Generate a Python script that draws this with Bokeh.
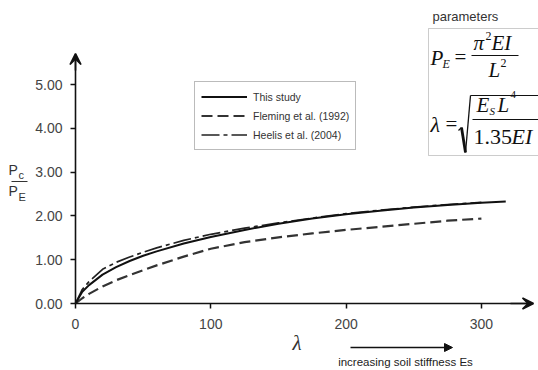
from bokeh.plotting import figure
from bokeh.models import (Range1d, FixedTicker, PrintfTickFormatter, Label, Arrow,
                          VeeHead, NormalHead, BoxAnnotation, Legend, LegendItem)
from bokeh.embed import file_html
from bokeh.resources import INLINE

# ---- data ----
lam_study = [0, 5, 10, 20, 30, 40, 50, 60, 80, 100, 125, 150, 175, 200, 225, 250, 275, 300, 318]
pc_study = [0, 0.27, 0.42, 0.66, 0.83, 0.97, 1.09, 1.19, 1.37, 1.52, 1.68, 1.82, 1.94, 2.04, 2.12, 2.19, 2.25, 2.30, 2.33]

lam_fleming = [0, 5, 10, 20, 30, 40, 50, 60, 80, 100, 125, 150, 175, 200, 225, 250, 275, 300]
pe_fleming = [0, 0.12, 0.22, 0.39, 0.53, 0.65, 0.76, 0.87, 1.07, 1.25, 1.40, 1.51, 1.60, 1.68, 1.75, 1.82, 1.89, 1.94]

lam_heelis = [0, 5, 10, 20, 30, 40, 50, 60, 80, 100, 125, 150, 175, 200, 225, 250, 275, 300]
pe_heelis = [0, 0.32, 0.50, 0.78, 0.94, 1.06, 1.17, 1.27, 1.44, 1.58, 1.72, 1.84, 1.95, 2.05, 2.13, 2.20, 2.26, 2.31]

series_labels = ["This study", "Fleming et al. (1992)", "Heelis et al. (2004)"]
x_ticks = [0, 100, 200, 300]
y_ticks = [0, 1, 2, 3, 4, 5]

# ---- layout helpers (window pixel -> data) ----
W, H = 538, 370
X0, XS = 75.0, 1.353
Y0, YS = 303.0, 43.8


def dx(wx):
    return (wx - X0) / XS


def dy(wy):
    return (Y0 - wy) / YS


p = figure(width=W, height=H, output_backend="svg", toolbar_location=None,
           x_range=Range1d(dx(0), dx(W)), y_range=Range1d(dy(H), dy(0)),
           min_border=0, min_border_left=0, min_border_right=0,
           min_border_top=0, min_border_bottom=0)
p.outline_line_color = None
p.grid.visible = False
p.background_fill_color = "white"
p.border_fill_color = "white"

for ax in (p.xaxis[0], p.yaxis[0]):
    ax.fixed_location = 0
    ax.axis_line_color = "#111111"
    ax.axis_line_width = 1.6
    ax.major_tick_line_color = "#111111"
    ax.major_tick_line_width = 1.5
    ax.major_tick_in = 0
    ax.major_tick_out = 5
    ax.minor_tick_line_color = None
    ax.major_label_text_font = "Liberation Sans"
    ax.major_label_text_font_size = "14px"
    ax.major_label_text_color = "#444444"

p.xaxis.ticker = FixedTicker(ticks=x_ticks)
p.yaxis.ticker = FixedTicker(ticks=y_ticks)
p.yaxis.formatter = PrintfTickFormatter(format="%.2f")
p.xaxis.bounds = (0, dx(531))
p.yaxis.bounds = (0, dy(54))
p.xaxis.major_label_standoff = 10
p.yaxis.major_label_standoff = 8

# axis arrow heads
p.add_layout(Arrow(end=VeeHead(size=11, line_color="#111111", line_width=1.6, fill_color="#111111"),
                   x_start=0, y_start=dy(70), x_end=0, y_end=dy(53),
                   line_color="#111111", line_width=1.6))
p.add_layout(Arrow(end=VeeHead(size=11, line_color="#111111", line_width=1.6, fill_color="#111111"),
                   x_start=dx(510), y_start=0, x_end=dx(533), y_end=0,
                   line_color="#111111", line_width=1.6))

# ---- curves ----
r3 = p.line(lam_heelis, pe_heelis, line_color="#222222", line_width=1.7, line_dash="18 4 4 4")
r2 = p.line(lam_fleming, pe_fleming, line_color="#333333", line_width=2.2, line_dash="11 5")
r1 = p.line(lam_study, pc_study, line_color="#111111", line_width=2.0)

legend = Legend(items=[LegendItem(label=series_labels[0], renderers=[r1]),
                       LegendItem(label=series_labels[1], renderers=[r2]),
                       LegendItem(label=series_labels[2], renderers=[r3])],
                location=(194, H - 150), orientation="vertical",
                border_line_color="#777777", border_line_width=1,
                background_fill_color="white", background_fill_alpha=1,
                padding=6, spacing=2, margin=0, glyph_width=46, glyph_height=17,
                label_height=17, label_standoff=6,
                label_text_font="Liberation Sans", label_text_font_size="10.5px",
                label_text_color="#333333")
p.add_layout(legend)


def lab(text, wx, wy, size, font="Liberation Sans", style="normal", color="#222222", align="left"):
    p.add_layout(Label(x=dx(wx), y=dy(wy), text=text, text_align=align, text_baseline="middle",
                       text_font=font, text_font_size=size, text_font_style=style,
                       text_color=color))


def seg(x1, y1, x2, y2, w=1.2, color="#222222"):
    p.add_layout(Arrow(end=None, start=None, x_start=dx(x1), y_start=dy(y1),
                       x_end=dx(x2), y_end=dy(y2), line_color=color, line_width=w))


# y-axis label  Pc / PE
lab("P", 8, 169, "14px", color="#333333")
lab("c", 18, 174, "11px", color="#333333")
seg(11, 181, 27, 181, 1.0, "#333333")
lab("P", 8, 190, "14px", color="#333333")
lab("E", 18, 196, "11px", color="#333333")

# x-axis label and stiffness arrow
lab("λ", 292, 342, "21px", font="Liberation Serif", style="italic", color="#333333")
p.add_layout(Arrow(end=NormalHead(size=8, line_color="#111111", fill_color="#111111"),
                   x_start=dx(350), y_start=dy(347), x_end=dx(452), y_end=dy(347),
                   line_color="#111111", line_width=1.6))
lab("increasing soil stiffness Es", 405, 361, "11.5px", color="#222222", align="center")

# ---- parameters box ----
lab("parameters", 432, 16, "13px", color="#333333")
p.add_layout(BoxAnnotation(left=dx(428), right=dx(600), top=dy(28), bottom=dy(155),
                           fill_alpha=0, line_color="#555555", line_width=1))
SER = "Liberation Serif"
INK = "#111111"
# P_E = pi^2 EI / L^2
lab("P", 430, 57, "21px", font=SER, style="italic", color=INK)
lab("E", 442, 63, "12px", font=SER, style="italic", color=INK)
lab("=", 454, 56, "21px", font=SER, color=INK)
lab("π", 473, 42, "21px", font=SER, style="italic", color=INK)
lab("2", 485, 35, "12px", font=SER, color=INK)
lab("EI", 491, 42, "21px", font=SER, style="italic", color=INK)
seg(471, 55, 518, 55, 1.2, INK)
lab("L", 488, 69, "21px", font=SER, style="italic", color=INK)
lab("2", 500, 62, "12px", font=SER, color=INK)
# lambda = sqrt(Es L^4 / 1.35 EI)
lab("λ", 430, 124, "22px", font=SER, style="italic", color=INK)
lab("=", 445, 123, "21px", font=SER, color=INK)
seg(458, 130, 461, 127, 1.3, INK)
seg(461, 127, 465, 152, 2.8, INK)
seg(465, 152, 470, 95, 1.3, INK)
seg(470, 95, 545, 95, 1.2, INK)
lab("E", 476, 104, "21px", font=SER, style="italic", color=INK)
lab("S", 489, 110, "11px", font=SER, style="italic", color=INK)
lab("L", 497, 104, "21px", font=SER, style="italic", color=INK)
lab("4", 510, 94, "11px", font=SER, color=INK)
seg(472, 119, 545, 119, 1.2, INK)
lab("1.35", 473, 136, "22px", font=SER, color=INK)
lab("EI", 511, 136, "22px", font=SER, style="italic", color=INK)

open("out.html", "w").write(file_html(p, INLINE))
